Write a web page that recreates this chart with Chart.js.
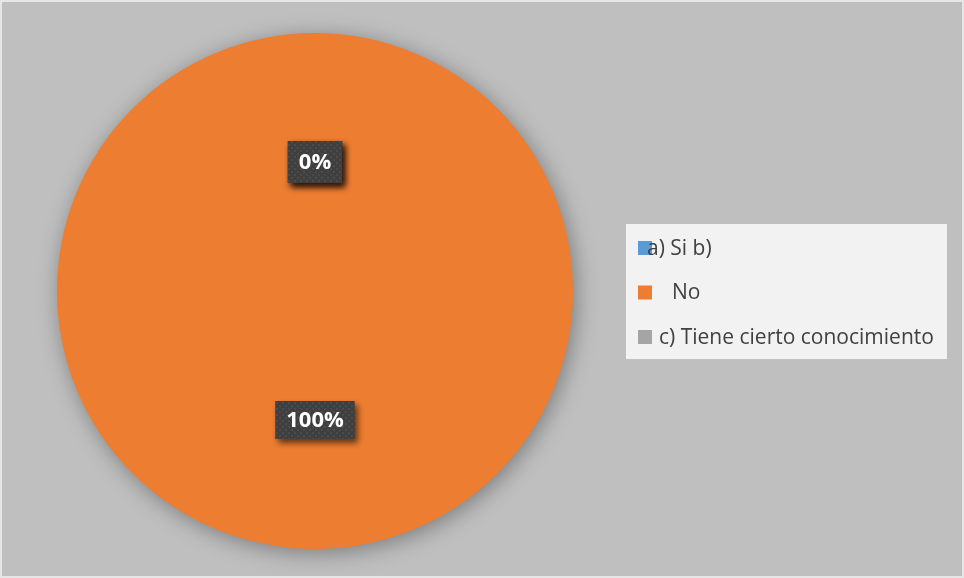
<!DOCTYPE html>
<html>
<head>
<meta charset="utf-8">
<script src="https://cdn.jsdelivr.net/npm/chart.js@4.4.1/dist/chart.umd.min.js"></script>
<style>
  html, body { margin: 0; padding: 0; background: #bfbfbf; }
  #wrap { width: 964px; height: 578px; position: relative; }
</style>
</head>
<body>
<div id="wrap"><canvas id="pastel"></canvas></div>
<script>
// datos de la grafica
const categorias = ["a) Si b)", "No", "c) Tiene cierto conocimiento"];
const valores = [0, 100, 0];
const etiquetas = ["0%", "100%", "0%"];
const colores = ["#5b9bd5", "#ed7d31", "#a5a5a5"];

const FUENTE = "'Open Sans', 'Liberation Sans', sans-serif";

// fondo gris con borde claro
const fondo = {
  id: "fondo",
  beforeDraw(chart) {
    const { ctx, width, height } = chart;
    ctx.save();
    ctx.fillStyle = "#bfbfbf";
    ctx.fillRect(0, 0, width, height);
    ctx.strokeStyle = "#e6e6e6";
    ctx.lineWidth = 2;
    ctx.strokeRect(1, 1, width - 2, height - 2);
    ctx.restore();
  },
};

// sombra suave del pastel
const sombra = {
  id: "sombra",
  beforeDatasetDraw(chart) {
    const ctx = chart.ctx;
    ctx.save();
    ctx.shadowColor = "rgba(0,0,0,0.35)";
    ctx.shadowBlur = 22;
    ctx.shadowOffsetX = 3;
    ctx.shadowOffsetY = 4;
  },
  afterDatasetDraw(chart) {
    chart.ctx.restore();
  },
};

// patron punteado de las cajas de etiqueta
const hacerPatron = (ctx) => {
  const c = document.createElement("canvas");
  c.width = 6; c.height = 6;
  const p = c.getContext("2d");
  p.fillStyle = "#3f3f3f";
  p.fillRect(0, 0, 6, 6);
  p.fillStyle = "#4b4b4b";
  p.fillRect(0, 0, 2, 2);
  p.fillRect(3, 3, 2, 2);
  return ctx.createPattern(c, "repeat");
};

// etiquetas de porcentaje
const etiquetasDatos = {
  id: "etiquetasDatos",
  afterDatasetsDraw(chart) {
    const { ctx } = chart;
    const meta = chart.getDatasetMeta(0);
    const patron = hacerPatron(ctx);
    ctx.save();
    ctx.font = "bold 22px " + FUENTE;
    ctx.textAlign = "center";
    ctx.textBaseline = "middle";
    meta.data.forEach((arc, i) => {
      const { x, y, startAngle, endAngle, outerRadius } = arc.getProps(["x", "y", "startAngle", "endAngle", "outerRadius"], true);
      const mid = (startAngle + endAngle) / 2;
      const px = x + Math.cos(mid) * outerRadius * 0.5;
      const py = y + Math.sin(mid) * outerRadius * 0.5;
      const texto = etiquetas[i];
      const w = ctx.measureText(texto).width + 22;
      const h = valores[i] === 0 ? 42 : 38;
      ctx.save();
      ctx.shadowColor = "rgba(0,0,0,0.6)";
      ctx.shadowBlur = 6;
      ctx.shadowOffsetX = 3;
      ctx.shadowOffsetY = 4;
      ctx.fillStyle = patron;
      ctx.fillRect(px - w / 2, py - h / 2, w, h);
      ctx.restore();
      ctx.fillStyle = "#ffffff";
      ctx.fillText(texto, px, py + 1);
    });
    ctx.restore();
  },
};

// leyenda a la derecha
const leyenda = {
  id: "leyenda",
  afterDraw(chart) {
    const { ctx } = chart;
    const caja = { x: 626, y: 224, w: 321, h: 135 };
    const desplaz = [9, 34, 21];
    ctx.save();
    ctx.fillStyle = "#f2f2f2";
    ctx.fillRect(caja.x, caja.y, caja.w, caja.h);
    ctx.font = "21px " + FUENTE;
    ctx.textBaseline = "middle";
    categorias.forEach((cat, i) => {
      const cy = caja.y + 24 + i * 44.5;
      ctx.fillStyle = colores[i];
      ctx.fillRect(caja.x + 12, cy - 7, 14, 14);
      ctx.fillStyle = "#404040";
      ctx.fillText(cat, caja.x + 12 + desplaz[i], cy + 1);
    });
    ctx.restore();
  },
};

new Chart(document.getElementById("pastel"), {
  type: "pie",
  data: {
    labels: categorias,
    datasets: [
      {
        data: valores,
        backgroundColor: colores,
        borderWidth: 0,
      },
    ],
  },
  options: {
    responsive: true,
    maintainAspectRatio: false,
    animation: false,
    layout: { padding: { left: 57, right: 391, top: 33, bottom: 29 } },
    plugins: {
      legend: { display: false },
      tooltip: { enabled: false },
    },
  },
  plugins: [fondo, sombra, etiquetasDatos, leyenda],
});
</script>
</body>
</html>
